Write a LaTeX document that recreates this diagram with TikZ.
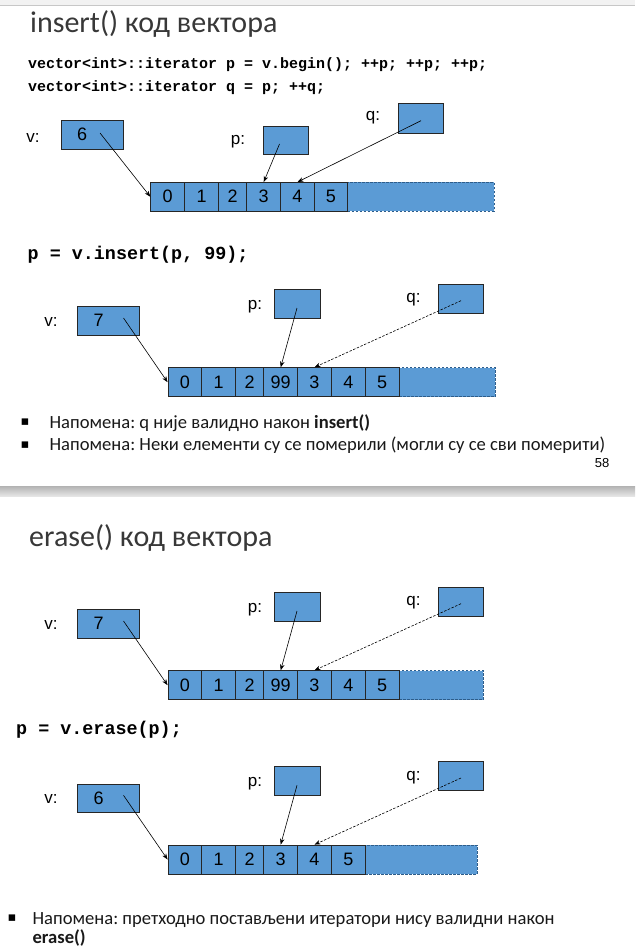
\documentclass[tikz,border=0pt]{standalone}
\usepackage{fontspec}
\setmainfont{Carlito}
\newfontfamily\arialf{Liberation Sans}
\newfontfamily\courf{Liberation Mono}
\newfontfamily\dejavuf{DejaVu Sans}
\usetikzlibrary{arrows.meta,calc}
\definecolor{boxblue}{HTML}{5B9BD5}
\definecolor{spareedge}{HTML}{2E5D8A}
\frenchspacing
\tikzset{
  cellbox/.style={draw=black!85, fill=boxblue, line width=0.8pt, inner sep=0pt,
    minimum height=28.5pt, font=\arialf\fontsize{18}{18}\selectfont},
  vbox/.style={cellbox, minimum width=62pt, text width=30pt, inner xsep=16pt, align=left},
  pbox/.style={cellbox, minimum width=45.5pt, minimum height=29pt},
  spare/.style={draw=spareedge, fill=boxblue, line width=0.8pt, dash pattern=on 2.5pt off 1.5pt,
    inner sep=0pt, minimum height=28.5pt},
  lbl/.style={inner sep=0pt, font=\arialf\fontsize{17}{17}\selectfont},
  ptr/.style={line width=0.6pt, -{Stealth[length=6pt,width=4.5pt]}},
  dptr/.style={ptr, dash pattern=on 2.5pt off 1.5pt},
  titletext/.style={anchor=base west, inner sep=0pt, text=black!78, font=\fontsize{30}{30}\selectfont},
  codetext/.style={anchor=base west, inner sep=0pt, font=\courf\bfseries\fontsize{15}{15}\selectfont},
  bigcode/.style={codetext, font=\courf\bfseries\fontsize{18.4}{18.4}\selectfont},
  bullettext/.style={anchor=base west, inner sep=0pt, text=black!90, font=\fontsize{18.6}{18.6}\selectfont},
  bulletmark/.style={inner sep=0pt, font=\dejavuf\fontsize{13}{13}\selectfont},
}
% #1 prefix, #2 vertical shift, #3 v value, #4 cells l/r/t/i, #5 spare left, #6 spare right
\newcommand{\vecpic}[6]{%
\begin{scope}[shift={(0,#2)}]
  \node[lbl] (#1vl) at (51,321.7) {v:};
  \node[vbox, minimum height=28.3pt] (#1v) at (108.7,320.8) {#3};
  \node[lbl] (#1pl) at (255,306.7) {p:};
  \node[pbox] (#1p) at (297.3,303.8) {};
  \node[lbl] (#1ql) at (413.5,300) {q:};
  \node[pbox, minimum width=45pt, minimum height=29.3pt] (#1q) at (460.4,298.7) {};
  \node[spare, minimum width={(#6-#5)*1pt}, minimum height=29pt] (#1sp) at ({(#5+#6)/2},382.2) {};
  \foreach \l/\r/\t/\i in {#4}
    \node[cellbox, minimum width={(\r-\l)*1pt}, minimum height=29pt] (#1c\i) at ({(\l+\r)/2},382.2) {\t};
  \coordinate (#1vs) at (123.5,318);
  \coordinate (#1ps) at (297,308);
  \coordinate (#1qs) at (461,300.7);
  \draw[ptr] (#1vs) -- (#1c0.west);
  \draw[ptr] (#1ps) -- (#1c3.north);
  \draw[dptr] (#1qs) -- (#1c4.north);
\end{scope}}
\begin{document}
\begin{tikzpicture}[x=1pt,y=-1pt]
\useasboundingbox (0,0) rectangle (635,947);
\fill[white] (0,0) rectangle (635,947);
% slide edges
\fill[black!5] (0,0) rectangle (635,5);
\draw[black!22, line width=0.8pt] (0,5) -- (635,5);
\shade[top color=black!30, bottom color=black!10] (0,486) rectangle (635,496);

% ---------- slide 58 ----------
\node[titletext] (t1) at (30,33) {insert() код вектора};
\node[codetext] (code1) at (28,69) {vector<int>::iterator p = v.begin(); ++p; ++p; ++p;};
\node[codetext] (code2) at (28,91.7) {vector<int>::iterator q = p; ++q;};

\node[lbl] (avl) at (33,138) {v:};
\node[vbox, minimum height=28.3pt] (av) at (92,134.8) {6};
\node[lbl] (apl) at (238,142) {p:};
\node[pbox, minimum height=28.7pt] (ap) at (285.8,140.3) {};
\node[lbl] (aql) at (373,118) {q:};
\node[pbox, minimum width=45pt, minimum height=29.6pt] (aq) at (421,118.5) {};
\node[spare, minimum width=146.3pt] (asp) at (420.85,196.7) {};
\foreach \l/\r/\t/\i in {150.7/184.7/0/0, 184.7/218.7/1/1, 218.7/246.7/2/2, 246.7/280.7/3/3, 280.7/314.3/4/4, 314.3/347.7/5/5}
  \node[cellbox, minimum width={(\r-\l)*1pt}] (ac\i) at ({(\l+\r)/2},196.7) {\t};
\coordinate (avs) at (100,133);
\coordinate (aps) at (279.5,144);
\coordinate (aqs) at (421,120.7);
\draw[ptr] (avs) -- (ac0.west);
\draw[ptr] (aps) -- (ac3.north);
\draw[ptr] (aqs) -- (ac4.north);

\node[bigcode] (code3) at (27.5,259.5) {p = v.insert(p, 99);};

\vecpic{b}{0}{7}{168/201.7/0/0, 201.7/235.7/1/1, 235.7/263.7/2/2, 263.7/297.7/99/3, 297.7/331.3/3/4, 331.3/365.3/4/5, 365.3/399/5/6}{399}{495}

\node[bulletmark] (bm1) at (25,422.5) {▪};
\node[bullettext] (bt1) at (49.4,428.3) {Напомена: q није валидно након \textbf{insert()}};
\node[bulletmark] (bm2) at (25,445) {▪};
\node[bullettext] (bt2) at (49.4,450.7) {Напомена: Неки елементи су се померили (могли су се сви померити)};
\node[lbl, font=\arialf\fontsize{13}{13}\selectfont] (pg) at (602,463) {58};

% ---------- slide 59 ----------
\node[titletext] (t2) at (29,546.5) {erase() код вектора};

\vecpic{c}{303}{7}{168/201.7/0/0, 201.7/235.7/1/1, 235.7/263.7/2/2, 263.7/297.7/99/3, 297.7/331.3/3/4, 331.3/365.3/4/5, 365.3/399/5/6}{399}{483}

\node[bigcode] (code4) at (16,734) {p = v.erase(p);};

\vecpic{d}{477.3}{6}{168/201.7/0/0, 201.7/235.7/1/1, 235.7/263.7/2/2, 263.7/297.7/3/3, 297.7/331.3/4/4, 331.3/365.3/5/5}{365.3}{477}

\node[bulletmark] (bm3) at (12,918) {▪};
\node[bullettext] (bt3) at (32.4,924) {Напомена: претходно постављени итератори нису валидни након};
\node[bullettext] (bt4) at (32.4,943) {\textbf{erase()}};
\end{tikzpicture}
\end{document}
